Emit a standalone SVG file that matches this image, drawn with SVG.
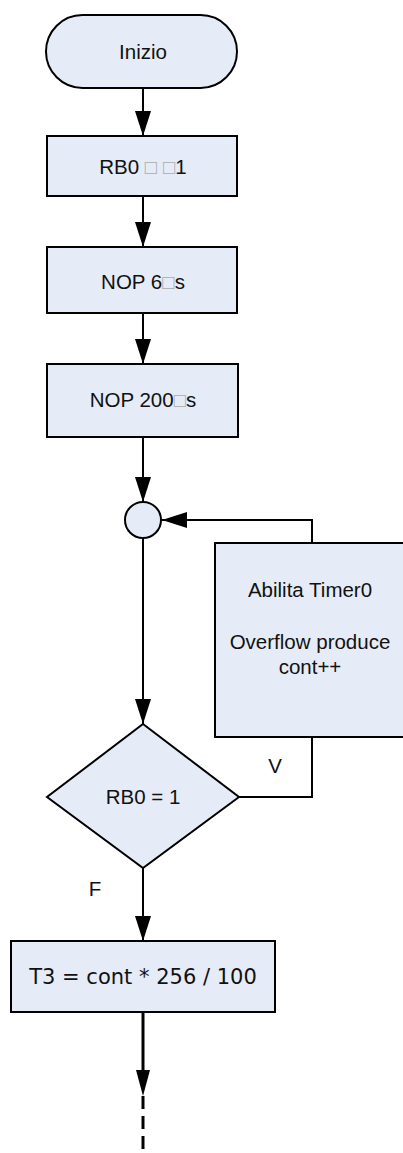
<svg xmlns="http://www.w3.org/2000/svg" width="403" height="1153" viewBox="0 0 403 1153">
<style>
.n{fill:#E6ECF7;stroke:#000;stroke-width:2}
.t{font-family:"Liberation Sans",Arial,sans-serif;font-size:20.5px;fill:#111;text-anchor:middle}
.v{font-family:"DejaVu Sans",Verdana,sans-serif;font-size:21px;fill:#111;text-anchor:middle}
.g{fill:#aaa}
.c{fill:none;stroke:#000;stroke-width:2}
.d{fill:none;stroke:#000;stroke-width:3;stroke-dasharray:13 7}
</style>
<defs>
<marker id="a" markerUnits="userSpaceOnUse" markerWidth="26" markerHeight="16" refX="25" refY="8" orient="auto">
<path d="M0,0 L25,8 L0,16 Z" fill="#000"/>
</marker>
</defs>
<g id="connectors">
<line class="c" x1="143" y1="88" x2="143" y2="136" marker-end="url(#a)"/>
<line class="c" x1="143" y1="196" x2="143" y2="247" marker-end="url(#a)"/>
<line class="c" x1="143" y1="313" x2="143" y2="364" marker-end="url(#a)"/>
<line class="c" x1="143" y1="437" x2="143" y2="502" marker-end="url(#a)"/>
<line class="c" x1="143" y1="538" x2="143" y2="724" marker-end="url(#a)"/>
<polyline class="c" points="312,543 312,520 162,520" marker-end="url(#a)"/>
<polyline class="c" points="239,797 312,797 312,737"/>
<line class="c" x1="143" y1="868" x2="143" y2="941" marker-end="url(#a)"/>
<line class="c" x1="143" y1="1012" x2="143" y2="1070" style="stroke-width:3"/>
<path d="M136,1070 L150,1070 L143,1096 Z" fill="#000"/>
<line class="d" x1="143" y1="1096" x2="143" y2="1153"/>
<text class="t" x="275" y="773">V</text>
<text class="t" x="95" y="896">F</text>
</g>
<g id="inizio">
<rect class="n" x="46" y="15" width="191" height="73" rx="36.5"/>
<text class="t" x="143" y="59">Inizio</text>
</g>
<g id="rb0set">
<rect class="n" x="47" y="136" width="190" height="60"/>
<text class="t" x="143" y="174">RB0 <tspan class="g">□</tspan> <tspan class="g">□</tspan>1</text>
</g>
<g id="nop6">
<rect class="n" x="47" y="247" width="190" height="66"/>
<text class="t" x="143" y="289">NOP 6<tspan class="g">□</tspan>s</text>
</g>
<g id="nop200">
<rect class="n" x="47" y="364" width="191" height="73"/>
<text class="t" x="143" y="407">NOP 200<tspan class="g">□</tspan>s</text>
</g>
<g id="join">
<circle class="n" cx="143" cy="520" r="18"/>
</g>
<g id="timer">
<rect class="n" x="215" y="543" width="200" height="194"/>
<text class="t" x="310" y="597">Abilita Timer0</text>
<text class="t" x="310" y="649">Overflow produce</text>
<text class="t" x="310" y="674">cont++</text>
</g>
<g id="decision">
<polygon class="n" points="143,724 239,797 143,868 47,797"/>
<text class="t" x="143" y="804">RB0 = 1</text>
</g>
<g id="t3">
<rect class="n" x="11" y="941" width="264" height="71"/>
<text class="v" x="143" y="984">T3 = cont * 256 / 100</text>
</g>
</svg>
